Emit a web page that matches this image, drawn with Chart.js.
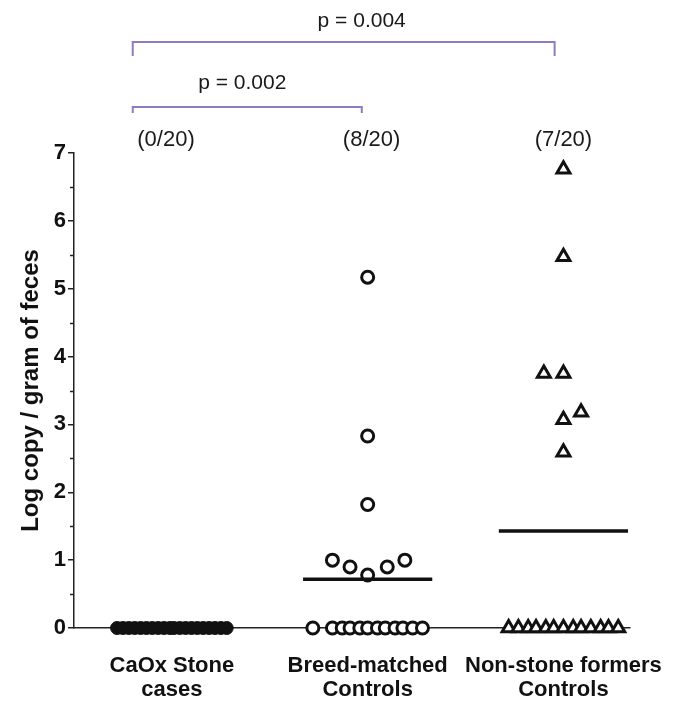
<!DOCTYPE html>
<html>
<head>
<meta charset="utf-8">
<script src="https://cdn.jsdelivr.net/npm/chart.js@4.4.1/dist/chart.umd.min.js"></script>
<style>
  html, body { margin: 0; padding: 0; background: #fff; }
  #wrap { width: 675px; height: 704px; position: relative; }
</style>
</head>
<body>
<div id="wrap"><canvas id="dotChart"></canvas></div>
<script>
// groups along the x axis
const groupLabels = [['CaOx Stone', 'cases'], ['Breed-matched', 'Controls'], ['Non-stone formers', 'Controls']];
const groupPos = [1, 2, 3];
const positiveCounts = ['(0/20)', '(8/20)', '(7/20)'];
const countLabelX = [0.97, 2.02, 3.0];

// CaOx stone cases - all 20 below detection
const caoxX = [0.72, 0.75, 0.78, 0.81, 0.84, 0.87, 0.90, 0.93, 0.96, 0.99,
               1.01, 1.04, 1.07, 1.10, 1.13, 1.16, 1.19, 1.22, 1.25, 1.28];
const caoxY = [0, 0, 0, 0, 0, 0, 0, 0, 0, 0, 0, 0, 0, 0, 0, 0, 0, 0, 0, 0];

// Breed-matched controls (8 positive)
const breedX = [1.72, 1.82, 1.87, 1.91, 1.96, 2.00, 2.05, 2.09, 2.14, 2.18, 2.23, 2.28,
                2.00, 2.00, 2.00, 1.82, 1.91, 2.00, 2.10, 2.19];
const breedY = [0, 0, 0, 0, 0, 0, 0, 0, 0, 0, 0, 0,
                5.17, 2.83, 1.82, 1.0, 0.9, 0.78, 0.9, 1.0];

// Non-stone former controls (7 positive)
const nonX = [2.72, 2.77, 2.82, 2.86, 2.91, 2.95, 3.00, 3.05, 3.09, 3.14, 3.19, 3.23, 3.28,
              3.00, 3.00, 2.90, 3.00, 3.00, 3.09, 3.00];
const nonY = [0, 0, 0, 0, 0, 0, 0, 0, 0, 0, 0, 0, 0,
              6.76, 5.47, 3.75, 3.75, 3.07, 3.18, 2.59];

// p-value comparisons (from group / to group on the x scale)
const pLabels = ['p = 0.002', 'p = 0.004'];
const bracketFrom = [0.8, 0.8];
const bracketTo = [1.97, 2.955];

const FONT = "'Liberation Sans', Arial, sans-serif";
const INK = '#111';

function toPoints(xs, ys) {
    return xs.map((x, i) => ({ x: x, y: ys[i] }));
}

function mean(arr) {
    return arr.reduce((a, b) => a + b, 0) / arr.length;
}

function meanLine(center, value) {
    return [{ x: center - 0.33, y: value }, { x: center + 0.33, y: value }];
}

// minor ticks, brackets and text above the plot
const extrasPlugin = {
    id: 'extras',
    afterDraw(chart) {
        const ctx = chart.ctx;
        const xs = chart.scales.x;
        const ys = chart.scales.y;
        const top = chart.chartArea.top;
        ctx.save();

        // half-step ticks on the y axis
        ctx.strokeStyle = '#222';
        ctx.lineWidth = 1.5;
        for (let v = 0.5; v < 7; v += 1) {
            const py = Math.round(ys.getPixelForValue(v)) + 0.5;
            ctx.beginPath();
            ctx.moveTo(xs.left - 4, py);
            ctx.lineTo(xs.left, py);
            ctx.stroke();
        }

        // count of positives per group
        ctx.fillStyle = '#1a1a1a';
        ctx.font = '22px ' + FONT;
        ctx.textAlign = 'center';
        ctx.textBaseline = 'alphabetic';
        positiveCounts.forEach((t, i) => {
            ctx.fillText(t, xs.getPixelForValue(countLabelX[i]), top - 7);
        });

        // comparison brackets
        const lineY = [top - 46, top - 111];
        const drop = [6, 14];
        const textY = [top - 64, top - 126];
        const textShift = [-5, 18];
        ctx.strokeStyle = '#8e7cc3';
        ctx.lineWidth = 2;
        ctx.font = '21px ' + FONT;
        pLabels.forEach((t, i) => {
            const x0 = xs.getPixelForValue(bracketFrom[i]);
            const x1 = xs.getPixelForValue(bracketTo[i]);
            ctx.beginPath();
            ctx.moveTo(x0, lineY[i] + drop[i]);
            ctx.lineTo(x0, lineY[i]);
            ctx.lineTo(x1, lineY[i]);
            ctx.lineTo(x1, lineY[i] + drop[i]);
            ctx.stroke();
            ctx.fillText(t, (x0 + x1) / 2 + textShift[i], textY[i]);
        });
        ctx.restore();
    }
};

Chart.defaults.font.family = FONT;

new Chart(document.getElementById('dotChart'), {
    type: 'scatter',
    data: {
        datasets: [
            {
                data: toPoints(caoxX, caoxY),
                pointStyle: 'circle',
                pointRadius: 6.5,
                backgroundColor: INK,
                borderColor: INK,
                borderWidth: 1,
                order: 1
            },
            {
                data: toPoints(breedX, breedY),
                pointStyle: 'circle',
                pointRadius: 6,
                backgroundColor: '#fff',
                borderColor: INK,
                borderWidth: 3,
                order: 1
            },
            {
                data: toPoints(nonX, nonY),
                pointStyle: 'triangle',
                pointRadius: 7.5,
                backgroundColor: '#fff',
                borderColor: INK,
                borderWidth: 3,
                order: 1
            },
            {
                type: 'line',
                data: meanLine(2, mean(breedY)),
                borderColor: INK,
                borderWidth: 3.5,
                pointRadius: 0,
                order: 0
            },
            {
                type: 'line',
                data: meanLine(3, mean(nonY)),
                borderColor: INK,
                borderWidth: 3.5,
                pointRadius: 0,
                order: 0
            }
        ]
    },
    options: {
        responsive: true,
        maintainAspectRatio: false,
        animation: false,
        clip: false,
        layout: { padding: { top: 153, right: 45, left: 0, bottom: 0 } },
        plugins: {
            legend: { display: false },
            tooltip: { enabled: false }
        },
        scales: {
            x: {
                type: 'linear',
                min: 0.5,
                max: 3.34,
                afterBuildTicks: scale => {
                    scale.ticks = groupPos.map(v => ({ value: v }));
                },
                afterFit: scale => {
                    scale.height = 76;
                    scale.paddingLeft = 0;
                    scale.paddingRight = 0;
                },
                ticks: {
                    autoSkip: false,
                    maxRotation: 0,
                    padding: 22,
                    color: INK,
                    font: { size: 22, weight: 'bold', lineHeight: 1.1 },
                    callback: (value, index) => groupLabels[index]
                },
                grid: {
                    drawOnChartArea: false,
                    tickLength: 4,
                    color: '#222',
                    lineWidth: 1.5
                },
                border: { color: '#222', width: 1.5 }
            },
            y: {
                min: 0,
                max: 7,
                afterFit: scale => {
                    scale.width = 74;
                    scale.paddingTop = 0;
                    scale.paddingBottom = 0;
                },
                ticks: {
                    stepSize: 1,
                    padding: 2,
                    color: INK,
                    font: { size: 22, weight: 'bold' }
                },
                grid: {
                    drawOnChartArea: false,
                    tickLength: 6,
                    color: '#222',
                    lineWidth: 1.5
                },
                border: { color: '#222', width: 1.5 },
                title: {
                    display: true,
                    text: 'Log copy / gram of feces',
                    color: INK,
                    padding: { top: 17 },
                    font: { size: 24, weight: 'bold' }
                }
            }
        }
    },
    plugins: [extrasPlugin]
});
</script>
</body>
</html>
